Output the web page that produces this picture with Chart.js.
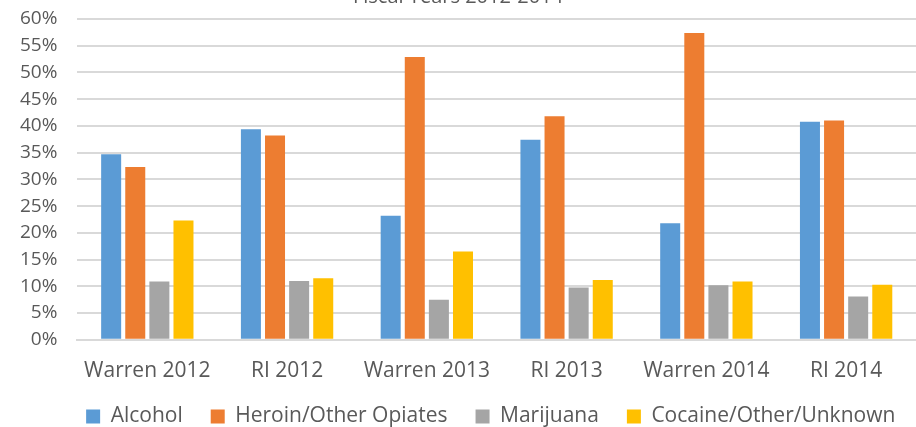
<!DOCTYPE html>
<html>
<head>
<meta charset="utf-8">
<script src="https://cdn.jsdelivr.net/npm/chart.js@4"></script>
<style>
  body { margin: 0; background: #fff; }
  #wrap { width: 916px; height: 427px; overflow: hidden; position: relative; }
  #chart { position: absolute; left: 0; top: -19px; }
</style>
</head>
<body>
<div id="wrap"><canvas id="chart" width="916" height="456"></canvas></div>
<script>
// categories and series (percent)
const categories = ['Warren 2012', 'RI 2012', 'Warren 2013', 'RI 2013', 'Warren 2014', 'RI 2014'];
const alcohol    = [34.7, 39.4, 23.2, 37.4, 21.8, 40.8];
const heroin     = [32.3, 38.2, 52.9, 41.8, 57.4, 41.0];
const marijuana  = [10.9, 11.0, 7.5, 9.8, 10.2, 8.1];
const cocaine    = [22.3, 11.5, 16.5, 11.2, 10.9, 10.3];
const yTicks     = [0, 5, 10, 15, 20, 25, 30, 35, 40, 45, 50, 55, 60];

const textColor = '#595959';
const fontFam = '"Open Sans", "Liberation Sans", sans-serif';

const mk = (label, data, color) => ({
    label, data, backgroundColor: color,
    barPercentage: 0.83, categoryPercentage: 0.69,
});

// legend padding is wide for item spacing; pull the row closer to the axis
// and centre it (roughly) under the plot rather than the canvas
const LEGEND_PULL = 17;
const legendGap = {
    id: 'legendGap',
    beforeInit(chart) {
        const fit = chart.legend.fit;
        chart.legend.fit = function () { fit.call(this); this.height -= LEGEND_PULL; };
    },
    afterLayout(chart) {
        const lg = chart.legend;
        const dx = (chart.chartArea.left + chart.chartArea.right) / 2 - (lg.left + lg.right) / 2 - 6;
        lg.top -= LEGEND_PULL;
        lg.left += dx;
        lg.right += dx;
    },
};

new Chart(document.getElementById('chart'), {
    type: 'bar',
    data: {
        labels: categories,
        datasets: [
            mk('Alcohol', alcohol, '#5B9BD5'),
            mk('Heroin/Other Opiates', heroin, '#ED7D31'),
            mk('Marijuana', marijuana, '#A5A5A5'),
            mk('Cocaine/Other/Unknown', cocaine, '#FFC000'),
        ],
    },
    plugins: [legendGap],
    options: {
        responsive: false,
        animation: false,
        layout: { padding: { left: 0, right: 0, top: 0, bottom: 0 } },
        plugins: {
            title: {
                display: true,
                text: 'Fiscal Years 2012-2014',
                color: textColor,
                font: { family: fontFam, size: 20, weight: 'normal' },
                padding: { top: 4, bottom: 10 },
            },
            legend: {
                position: 'bottom',
                labels: {
                    color: textColor,
                    font: { family: fontFam, size: 21 },
                    boxWidth: 14, boxHeight: 14,
                    padding: 28,
                },
            },
            tooltip: { enabled: false },
        },
        scales: {
            x: {
                grid: { display: false },
                border: { color: '#d9d9d9', width: 2 },
                ticks: { color: textColor, font: { family: fontFam, size: 21 }, padding: 11 },
            },
            y: {
                min: 0, max: 60,
                afterBuildTicks: axis => { axis.ticks = yTicks.map(v => ({ value: v })); },
                grid: { color: '#d9d9d9', lineWidth: 2, drawTicks: false },
                border: { display: false },
                ticks: {
                    color: textColor, font: { family: fontFam, size: 19 }, padding: 20,
                    autoSkip: false,
                    callback: v => v + '%',
                },
            },
        },
    },
});
</script>
</body>
</html>
